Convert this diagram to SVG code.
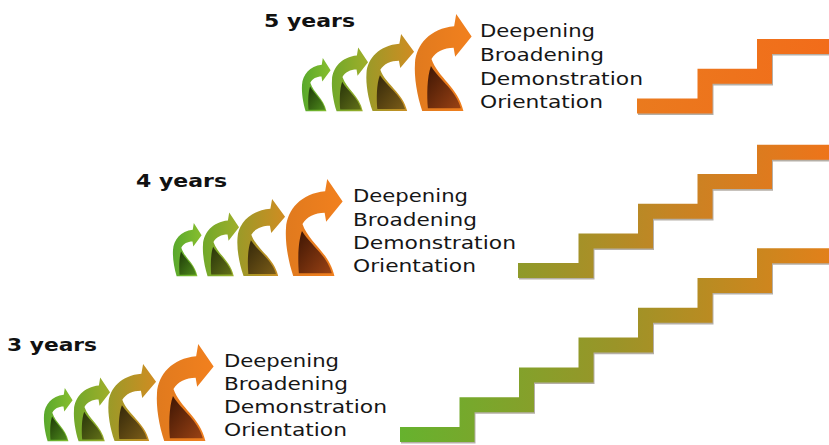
<svg xmlns="http://www.w3.org/2000/svg" xmlns:xlink="http://www.w3.org/1999/xlink" width="829" height="445" viewBox="0 0 829 445">
  <style>
    .lbl { font-family: "DejaVu Sans", Verdana, sans-serif; font-weight: bold; font-size: 18.5px; fill: #111; }
    .txt { font-family: "DejaVu Sans", Verdana, sans-serif; font-size: 17.5px; fill: #161616; }
    .stair { fill: none; stroke-width: 15; stroke-linejoin: miter; stroke-linecap: butt; }
    .shadow { fill: none; stroke: #2a1a00; stroke-opacity: 0.35; stroke-width: 15; stroke-linejoin: miter; }
  </style>
  <defs>
    <path id="af" d="M7,95 C2,80 -1,62 0,48 C1,30 15,14 38,12 L40,0 L55,22 L39,42 L37.5,33 C28,33 20,37 16,44 C22,62 42,72 47,95 Z"/>
    <path id="ab" d="M15.5,51 C11.5,62 11.5,80 12.5,92.5 L44.5,92.5 C40,75 24,65 15.5,51 Z"/>
    <linearGradient id="f1" x1="0" y1="0" x2="1" y2="0"><stop offset="0" stop-color="#58a82c"/><stop offset="1" stop-color="#88be2e"/></linearGradient>
    <linearGradient id="f2" x1="0" y1="0" x2="1" y2="0"><stop offset="0" stop-color="#70a82a"/><stop offset="1" stop-color="#a0ae2a"/></linearGradient>
    <linearGradient id="f3" x1="0" y1="0" x2="1" y2="0"><stop offset="0" stop-color="#9a9a28"/><stop offset="1" stop-color="#d08c22"/></linearGradient>
    <linearGradient id="f4" x1="0" y1="0" x2="1" y2="0"><stop offset="0" stop-color="#e07a1e"/><stop offset="1" stop-color="#f2801e"/></linearGradient>
    <linearGradient id="b1" x1="0" y1="0" x2="1" y2="1"><stop offset="0" stop-color="#1e3a08"/><stop offset="1" stop-color="#4e8a1c"/></linearGradient>
    <linearGradient id="b2" x1="0" y1="0" x2="1" y2="1"><stop offset="0" stop-color="#28340a"/><stop offset="1" stop-color="#627018"/></linearGradient>
    <linearGradient id="b3" x1="0" y1="0" x2="1" y2="1"><stop offset="0" stop-color="#34280a"/><stop offset="1" stop-color="#7a5c18"/></linearGradient>
    <linearGradient id="b4" x1="0" y1="0" x2="1" y2="1"><stop offset="0" stop-color="#3e1604"/><stop offset="1" stop-color="#9a4214"/></linearGradient>
    <linearGradient id="s3" gradientUnits="userSpaceOnUse" x1="400" y1="0" x2="829" y2="0"><stop offset="0" stop-color="#66b22e"/><stop offset="0.5" stop-color="#9a9428"/><stop offset="1" stop-color="#e2801a"/></linearGradient>
    <linearGradient id="s4" gradientUnits="userSpaceOnUse" x1="518" y1="0" x2="829" y2="0"><stop offset="0" stop-color="#8e9a2a"/><stop offset="0.5" stop-color="#c68424"/><stop offset="1" stop-color="#ee741a"/></linearGradient>
    <linearGradient id="s5" gradientUnits="userSpaceOnUse" x1="637" y1="0" x2="829" y2="0"><stop offset="0" stop-color="#ea7a1e"/><stop offset="1" stop-color="#f26c1a"/></linearGradient>
    <g id="arrowset">
      <g transform="translate(44,388) scale(0.52,0.56)"><use xlink:href="#af" fill="url(#f1)"/><use xlink:href="#ab" fill="url(#b1)"/></g>
      <g transform="translate(74,377.5) scale(0.655,0.67)"><use xlink:href="#af" fill="url(#f2)"/><use xlink:href="#ab" fill="url(#b2)"/></g>
      <g transform="translate(108.5,364) scale(0.865,0.81)"><use xlink:href="#af" fill="url(#f3)"/><use xlink:href="#ab" fill="url(#b3)"/></g>
      <g transform="translate(157,344) scale(1.03,1.02)"><use xlink:href="#af" fill="url(#f4)"/><use xlink:href="#ab" fill="url(#b4)"/></g>
    </g>
  </defs>
  <rect width="829" height="445" fill="#ffffff"/>

  <g id="connectors">
    <g id="stair-3">
      <path class="shadow" transform="translate(1,1.6)" d="M400,434.5 H467 V404.7 H526.5 V374.9 H586 V345.1 H645.5 V315.3 H705 V285.5 H764.5 V255.7 H835"/>
      <path class="stair" stroke="url(#s3)" d="M400,434.5 H467 V404.7 H526.5 V374.9 H586 V345.1 H645.5 V315.3 H705 V285.5 H764.5 V255.7 H835"/>
    </g>
    <g id="stair-4">
      <path class="shadow" transform="translate(1,1.6)" d="M518,270.5 H586 V241 H645.5 V211.3 H705 V181.6 H764.5 V152.3 H835"/>
      <path class="stair" stroke="url(#s4)" d="M518,270.5 H586 V241 H645.5 V211.3 H705 V181.6 H764.5 V152.3 H835"/>
    </g>
    <g id="stair-5">
      <path class="shadow" transform="translate(1,1.6)" d="M637,106 H705 V76.3 H764.5 V46.5 H835"/>
      <path class="stair" stroke="url(#s5)" d="M637,106 H705 V76.3 H764.5 V46.5 H835"/>
    </g>
  </g>

  <g id="node-3years">
    <text class="lbl" x="7" y="351" textLength="90" lengthAdjust="spacingAndGlyphs">3 years</text>
    <use xlink:href="#arrowset"/>
    <text class="txt" x="224" y="367" textLength="115" lengthAdjust="spacingAndGlyphs">Deepening</text>
    <text class="txt" x="224" y="390" textLength="124" lengthAdjust="spacingAndGlyphs">Broadening</text>
    <text class="txt" x="224" y="413" textLength="163" lengthAdjust="spacingAndGlyphs">Demonstration</text>
    <text class="txt" x="224" y="436" textLength="123" lengthAdjust="spacingAndGlyphs">Orientation</text>
  </g>

  <g id="node-4years">
    <text class="lbl" x="136" y="187" textLength="91" lengthAdjust="spacingAndGlyphs">4 years</text>
    <use xlink:href="#arrowset" transform="translate(129,-165)"/>
    <text class="txt" x="353" y="202" textLength="115" lengthAdjust="spacingAndGlyphs">Deepening</text>
    <text class="txt" x="353" y="226" textLength="124" lengthAdjust="spacingAndGlyphs">Broadening</text>
    <text class="txt" x="353" y="249" textLength="163" lengthAdjust="spacingAndGlyphs">Demonstration</text>
    <text class="txt" x="353" y="272" textLength="123" lengthAdjust="spacingAndGlyphs">Orientation</text>
  </g>

  <g id="node-5years">
    <text class="lbl" x="264" y="26.5" textLength="91" lengthAdjust="spacingAndGlyphs">5 years</text>
    <use xlink:href="#arrowset" transform="translate(258,-330)"/>
    <text class="txt" x="480" y="37" textLength="115" lengthAdjust="spacingAndGlyphs">Deepening</text>
    <text class="txt" x="480" y="61" textLength="124" lengthAdjust="spacingAndGlyphs">Broadening</text>
    <text class="txt" x="480" y="85" textLength="163" lengthAdjust="spacingAndGlyphs">Demonstration</text>
    <text class="txt" x="480" y="108" textLength="123" lengthAdjust="spacingAndGlyphs">Orientation</text>
  </g>
</svg>
